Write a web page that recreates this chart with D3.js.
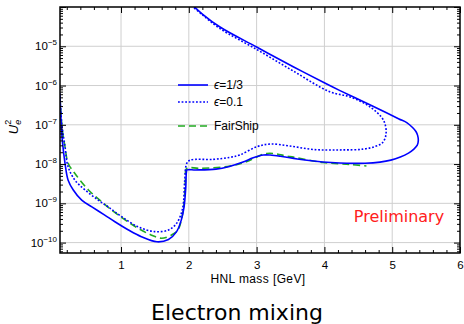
<!DOCTYPE html>
<html><head><meta charset="utf-8">
<script src="https://cdn.jsdelivr.net/npm/d3@7"></script>
<style>body{margin:0;background:#fff}svg{display:block}</style>
</head><body><svg id="c" width="464" height="324"></svg>
<script>
// ---- data (HNL mass [GeV], log10 U_e^2) ----
const xTicks = [1, 2, 3, 4, 5, 6];
const yDecades = [-10, -9, -8, -7, -6, -5];
const legendLabels = ["\u03F5=1/3", "\u03F5=0.1", "FairShip"];

const eps13Mass = [0.10,0.11,0.134,0.174,0.22,0.296,0.42,0.57,0.76,0.91,1.11,1.30,1.53,1.70,1.82,1.89,1.93,1.955,1.965,1.975,2.1,2.4,2.6,2.8,2.95,3.1,3.2,3.35,3.6,3.84,4.1,4.33,4.6,4.82,4.98,5.12,5.24,5.32,5.37,5.385,5.375,5.35,5.30,5.22,5.10,4.90,4.67,4.23,4.02,3.54,3.0,2.46,2.2,2.06];
const eps13LogU = [-6.2,-6.71,-7.39,-7.98,-8.41,-8.66,-8.92,-9.09,-9.30,-9.47,-9.68,-9.85,-9.98,-9.92,-9.72,-9.42,-9.09,-8.6,-8.2,-8.15,-8.15,-8.13,-8.06,-7.95,-7.84,-7.77,-7.77,-7.80,-7.87,-7.92,-7.96,-7.98,-7.98,-7.95,-7.90,-7.82,-7.72,-7.62,-7.52,-7.40,-7.27,-7.17,-7.07,-6.95,-6.85,-6.68,-6.49,-6.13,-5.95,-5.52,-5.02,-4.51,-4.18,-3.96];

const eps01Mass = [0.10,0.125,0.174,0.22,0.32,0.47,0.665,0.81,1.01,1.255,1.50,1.70,1.82,1.89,1.92,1.94,1.97,2.02,2.36,2.6,2.75,3.0,3.2,3.49,3.84,4.23,4.57,4.75,4.86,4.91,4.87,4.67,4.38,4.08,3.54,3.0,2.46,2.2,2.05];
const eps01LogU = [-6.3,-6.96,-7.56,-8.07,-8.41,-8.66,-8.92,-9.09,-9.34,-9.60,-9.72,-9.68,-9.51,-9.25,-9.0,-8.41,-7.98,-7.90,-7.88,-7.83,-7.77,-7.56,-7.49,-7.54,-7.63,-7.64,-7.62,-7.55,-7.45,-7.22,-6.88,-6.54,-6.29,-6.16,-5.63,-5.08,-4.55,-4.2,-3.98];

const fairMass = [0.10,0.134,0.174,0.22,0.32,0.52,0.715,0.86,1.06,1.255,1.45,1.60,1.75,1.84,1.89,1.93,1.95,1.97,2.16,2.61,2.85,3.15,3.49,3.98,4.38,4.62];
const fairLogU = [-6.3,-7.13,-7.56,-7.98,-8.24,-8.66,-8.96,-9.17,-9.42,-9.64,-9.81,-9.89,-9.80,-9.68,-9.42,-9.0,-8.41,-8.11,-8.11,-8.05,-7.94,-7.73,-7.81,-7.96,-8.01,-8.05];

// ---- layout ----
const L = 60, R = 460, T = 7, B = 253;
const svg = d3.select("#c");
const x = d3.scaleLinear().domain([0.1, 6]).range([L, R]);
const y = d3.scaleLog().domain([Math.pow(10, -10.265), 1e-4]).range([B, T]);

const blue = "#0000ff", green = "#22aa22";
const font = "'Liberation Sans', Arial, sans-serif";

// grid
const g = svg.append("g");
g.selectAll(".gx").data(xTicks.filter(d => d < 6)).join("line")
  .attr("x1", d => x(d)).attr("x2", d => x(d)).attr("y1", T).attr("y2", B)
  .attr("stroke", "#cfcfcf").attr("stroke-width", 1);
g.selectAll(".gy").data(yDecades).join("line")
  .attr("y1", d => y(Math.pow(10, d))).attr("y2", d => y(Math.pow(10, d))).attr("x1", L).attr("x2", R)
  .attr("stroke", "#cfcfcf").attr("stroke-width", 1);

// clip
svg.append("clipPath").attr("id", "clip").append("rect")
  .attr("x", L).attr("y", T).attr("width", R - L).attr("height", B - T);

const line = d3.line().x(d => x(d[0])).y(d => y(Math.pow(10, d[1]))).curve(d3.curveCatmullRom.alpha(0.5));
const zip = (a, b) => a.map((v, i) => [v, b[i]]);

const curves = svg.append("g").attr("clip-path", "url(#clip)");
curves.append("path").attr("d", line(zip(fairMass, fairLogU)))
  .attr("fill", "none").attr("stroke", green).attr("stroke-width", 1.6).attr("stroke-dasharray", "7,4");
curves.append("path").attr("d", line(zip(eps01Mass, eps01LogU)))
  .attr("fill", "none").attr("stroke", blue).attr("stroke-width", 1.6).attr("stroke-dasharray", "1.8,1.8");
curves.append("path").attr("d", line(zip(eps13Mass, eps13LogU)))
  .attr("fill", "none").attr("stroke", blue).attr("stroke-width", 1.6);

// axes ticks (inward)
const minorX = d3.range(2, 60, 2).map(d => d / 10).filter(d => Math.abs(d - Math.round(d)) > 1e-6 && d > 0.1);
const majorY = [], minorY = [];
for (let e = -11; e <= -4; e++) {
  for (let k = 1; k <= 9; k++) {
    const v = k * Math.pow(10, e);
    if (v < y.domain()[0] || v > y.domain()[1] * 1.0001) continue;
    (k === 1 ? majorY : minorY).push(v);
  }
}
const axB = d3.axisBottom(x).tickValues(xTicks).tickFormat(d3.format("d")).tickSizeInner(-6).tickSizeOuter(0).tickPadding(8);
const axBm = d3.axisBottom(x).tickValues(minorX).tickFormat("").tickSizeInner(-3).tickSizeOuter(0);
const axT = d3.axisTop(x).tickValues(xTicks).tickFormat("").tickSizeInner(-6).tickSizeOuter(0);
const axTm = d3.axisTop(x).tickValues(minorX).tickFormat("").tickSizeInner(-3).tickSizeOuter(0);
const axLm = d3.axisLeft(y).tickValues(minorY).tickFormat("").tickSizeInner(-3).tickSizeOuter(0);
const axLM = d3.axisLeft(y).tickValues(majorY).tickFormat("").tickSizeInner(-6).tickSizeOuter(0);
const axRm = d3.axisRight(y).tickValues(minorY).tickFormat("").tickSizeInner(-3).tickSizeOuter(0);
const axRM = d3.axisRight(y).tickValues(majorY).tickFormat("").tickSizeInner(-6).tickSizeOuter(0);

function style(sel) {
  sel.select(".domain").remove();
  sel.selectAll("line").attr("stroke", "#000").attr("stroke-width", 1);
  sel.selectAll("text").attr("font-family", font).attr("font-size", 11.5).attr("fill", "#000");
}
svg.append("g").attr("transform", `translate(0,${B})`).call(axB).call(style);
svg.append("g").attr("transform", `translate(0,${B})`).call(axBm).call(style);
svg.append("g").attr("transform", `translate(0,${T})`).call(axT).call(style);
svg.append("g").attr("transform", `translate(0,${T})`).call(axTm).call(style);
svg.append("g").attr("transform", `translate(${L},0)`).call(axLm).call(style);
svg.append("g").attr("transform", `translate(${L},0)`).call(axLM).call(style);
svg.append("g").attr("transform", `translate(${R},0)`).call(axRm).call(style);
svg.append("g").attr("transform", `translate(${R},0)`).call(axRM).call(style);

// y tick labels 10^n
const yl = svg.append("g").selectAll("text").data(yDecades).join("text")
  .attr("x", 57).attr("y", d => y(Math.pow(10, d)) + 4)
  .attr("text-anchor", "end").attr("font-family", font).attr("font-size", 11.5).attr("fill", "#000");
yl.append("tspan").text("10");
yl.append("tspan").attr("dy", -5).attr("font-size", 8).text(d => "\u2212" + (-d));

// frame
svg.append("rect").attr("x", L).attr("y", T).attr("width", R - L).attr("height", B - T)
  .attr("fill", "none").attr("stroke", "#000").attr("stroke-width", 1.5);

// axis titles
svg.append("text").attr("x", 258).attr("y", 283).attr("text-anchor", "middle")
  .attr("font-family", font).attr("font-size", 12).attr("letter-spacing", 0.4).text("HNL mass [GeV]");
const yt = svg.append("text").attr("transform", "translate(18,127) rotate(-90)")
  .attr("text-anchor", "middle").attr("font-family", font).attr("font-size", 13);
yt.append("tspan").attr("font-style", "italic").text("U");
yt.append("tspan").attr("font-style", "italic").attr("font-size", 9).attr("dy", 3).text("e");
yt.append("tspan").attr("font-size", 9).attr("dx", -5).attr("dy", -10).text("2");

// legend
const legY = [85, 102, 126];
const legStyle = [{c: blue, d: null}, {c: blue, d: "1.8,1.8"}, {c: green, d: "7,4"}];
const lg = svg.append("g");
legendLabels.forEach((t, i) => {
  lg.append("line").attr("x1", 178).attr("x2", 208).attr("y1", legY[i]).attr("y2", legY[i])
    .attr("stroke", legStyle[i].c).attr("stroke-width", 1.6).attr("stroke-dasharray", legStyle[i].d);
  const tx = lg.append("text").attr("x", 214).attr("y", legY[i] + 4)
    .attr("font-family", font).attr("font-size", 12).attr("fill", "#000");
  if (i < 2) {
    tx.append("tspan").attr("font-style", "italic").text(t[0]);
    tx.append("tspan").text(t.slice(1));
  } else tx.text(t);
});

// annotations
svg.append("text").attr("x", 399).attr("y", 222).attr("text-anchor", "middle")
  .attr("font-family", "'DejaVu Sans', sans-serif").attr("font-size", 16).attr("fill", "#ff2020").text("Preliminary");
svg.append("text").attr("x", 237).attr("y", 320).attr("text-anchor", "middle")
  .attr("font-family", "'DejaVu Sans', sans-serif").attr("font-size", 22).attr("fill", "#000").text("Electron mixing");
</script></body></html>
